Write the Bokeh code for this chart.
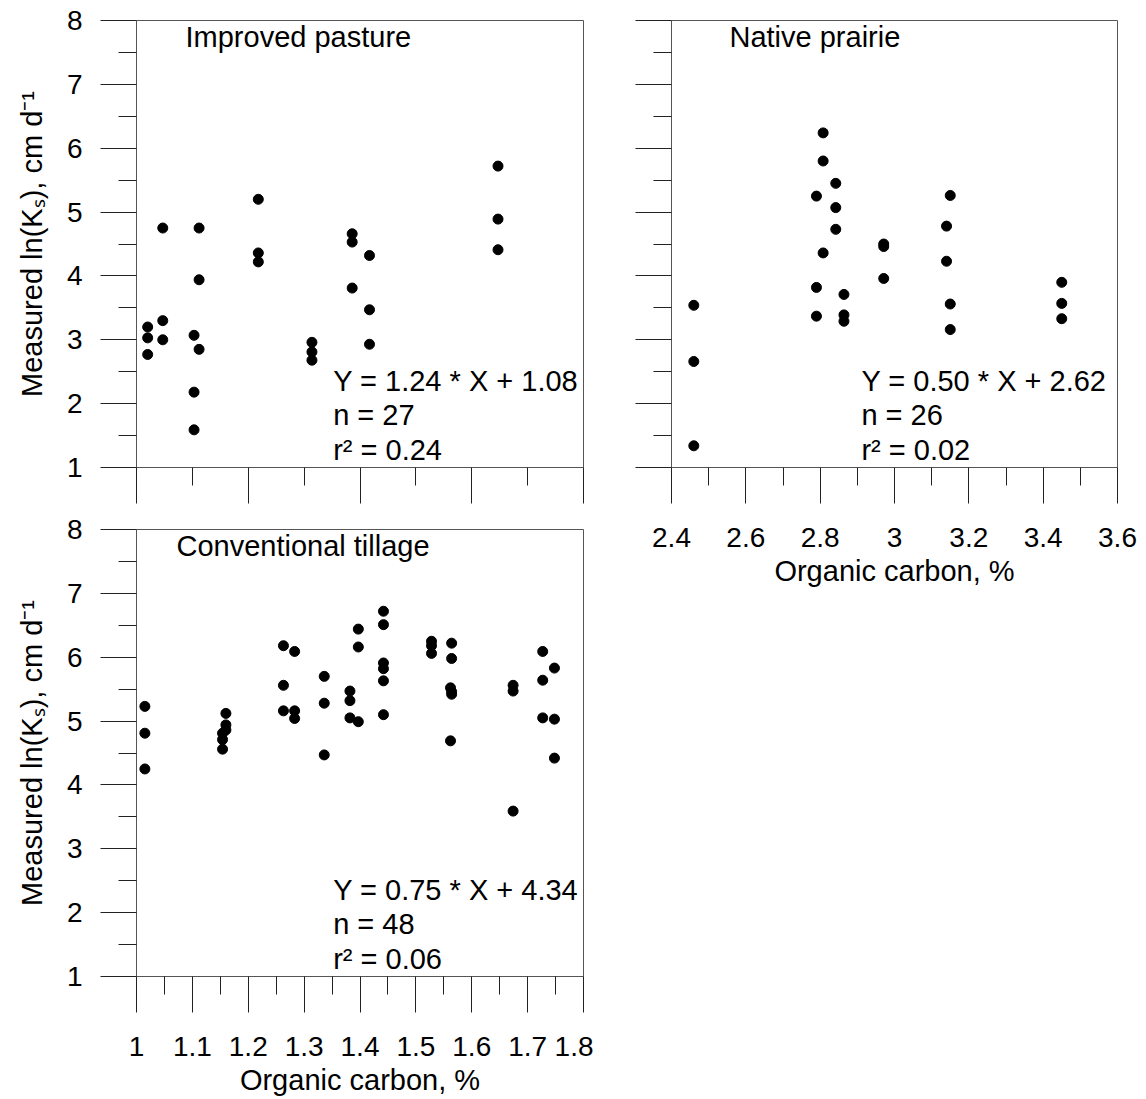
from bokeh.plotting import figure
from bokeh.models import Range1d, FixedTicker, Label
from bokeh.layouts import row, column
from bokeh.embed import file_html
from bokeh.resources import INLINE

FONT = "Liberation Sans"

# ---------------- data ----------------
# Improved pasture
ip_oc = [1.020, 1.020, 1.020, 1.047, 1.047, 1.047, 1.103, 1.103, 1.103,
         1.112, 1.112, 1.112, 1.218, 1.218, 1.218, 1.314, 1.314, 1.314,
         1.386, 1.386, 1.386, 1.417, 1.417, 1.417, 1.647, 1.647, 1.647]
ip_ks = [3.20, 3.03, 2.77, 4.75, 3.30, 3.00, 3.07, 2.18, 1.59,
         4.75, 3.94, 2.85, 5.20, 4.36, 4.22, 2.96, 2.81, 2.68,
         4.66, 4.53, 3.81, 4.32, 3.47, 2.93, 5.72, 4.89, 4.41]

# Native prairie
np_oc = [2.46, 2.46, 2.46, 2.79, 2.79, 2.79, 2.808, 2.808, 2.808,
         2.842, 2.842, 2.842, 2.864, 2.864, 2.864, 2.971, 2.971, 2.971,
         3.14, 3.14, 3.15, 3.15, 3.15, 3.45, 3.45, 3.45]
np_ks = [3.54, 2.66, 1.34, 5.25, 3.82, 3.37, 6.24, 5.80, 4.36,
         5.45, 5.07, 4.73, 3.71, 3.39, 3.29, 4.50, 4.46, 3.96,
         4.78, 4.23, 5.26, 3.56, 3.16, 3.90, 3.57, 3.33]

# Conventional tillage
ct_oc = [1.015, 1.015, 1.015,
         1.160, 1.160, 1.160, 1.154, 1.154, 1.154,
         1.263, 1.263, 1.263, 1.283, 1.283, 1.283,
         1.336, 1.336, 1.336, 1.382, 1.382, 1.382,
         1.397, 1.397, 1.397,
         1.442, 1.442, 1.442, 1.442, 1.442, 1.442,
         1.528, 1.528, 1.528,
         1.564, 1.564, 1.564, 1.564, 1.562, 1.562,
         1.674, 1.674, 1.674, 1.727, 1.727, 1.727,
         1.748, 1.748, 1.748]
ct_ks = [5.23, 4.81, 4.25,
         5.12, 4.94, 4.86, 4.81, 4.71, 4.56,
         6.18, 5.56, 5.16, 6.09, 5.16, 5.04,
         5.70, 5.28, 4.47, 5.47, 5.32, 5.05,
         6.44, 6.16, 4.99,
         6.72, 6.51, 5.91, 5.82, 5.63, 5.10,
         6.25, 6.18, 6.06,
         6.22, 5.98, 5.46, 5.42, 5.52, 4.69,
         5.56, 5.47, 3.59, 6.09, 5.64, 5.05,
         5.83, 5.03, 4.42]

y_major = [1, 2, 3, 4, 5, 6, 7, 8]
y_minor = [1.5, 2.5, 3.5, 4.5, 5.5, 6.5, 7.5]
y_labels = ["1", "2", "3", "4", "5", "6", "7", "8"]

oc_low_major = [1.0, 1.2, 1.4, 1.6, 1.8]
oc_low_minor = [1.1, 1.3, 1.5, 1.7]
oc_low_labels = ["1", "1.1", "1.2", "1.3", "1.4", "1.5", "1.6", "1.7", "1.8"]
oc_low_minor2 = [1.05, 1.15, 1.25, 1.35, 1.45, 1.55, 1.65, 1.75]

oc_np_labels = ["2.4", "2.6", "2.8", "3", "3.2", "3.4", "3.6"]
oc_np_minor = [2.5, 2.7, 2.9, 3.1, 3.3, 3.5]

titles = ["Improved pasture", "Native prairie", "Conventional tillage"]
stats = [["Y = 1.24 * X + 1.08", "n = 27", "r\u00b2 = 0.24"],
         ["Y = 0.50 * X + 2.62", "n = 26", "r\u00b2 = 0.02"],
         ["Y = 0.75 * X + 4.34", "n = 48", "r\u00b2 = 0.06"]]

y_title = "Measured ln(K\u209b), cm d\u207b\u00b9"
x_title = "Organic carbon, %"

TICK_FS = "28px"
TEXT_FS = "29px"
FRAME = "#555555"
TICKC = "#222222"


def make(width, height, xr, borders):
    l, t, r, b = borders
    p = figure(width=width, height=height, x_range=Range1d(*xr),
               y_range=Range1d(1, 8), output_backend="svg",
               toolbar_location=None, min_border_left=l, min_border_top=t,
               min_border_right=r, min_border_bottom=b)
    p.grid.visible = False
    p.outline_line_color = FRAME
    p.outline_line_width = 1
    p.background_fill_color = "white"
    p.border_fill_color = "white"
    for ax in (p.xaxis[0], p.yaxis[0]):
        ax.axis_line_color = FRAME
        ax.major_tick_in = 0
        ax.major_tick_out = 36
        ax.minor_tick_in = 0
        ax.minor_tick_out = 18
        ax.major_tick_line_color = TICKC
        ax.minor_tick_line_color = TICKC
        ax.major_label_text_font = FONT
        ax.major_label_text_font_size = TICK_FS
        ax.major_label_text_color = "black"
        ax.axis_label_text_font = FONT
        ax.axis_label_text_font_size = TEXT_FS
        ax.axis_label_text_font_style = "normal"
        ax.axis_label_text_color = "black"
    p.yaxis[0].ticker = FixedTicker(ticks=[float(v) for v in y_major],
                                    minor_ticks=y_minor)
    p.yaxis[0].major_label_overrides = {float(v): s for v, s in zip(y_major, y_labels)}
    p.yaxis[0].major_label_standoff = 18
    p.xaxis[0].major_label_standoff = 24
    return p


def annotate(p, x_title_pos, title, x_stat, lines):
    p.add_layout(Label(x=x_title_pos, y=7.734, text=title, text_font=FONT,
                       text_font_size=TEXT_FS, text_baseline="alphabetic",
                       text_align="left", text_color="black"))
    for yy, s in zip([2.354, 1.821, 1.273], lines):
        p.add_layout(Label(x=x_stat, y=yy, text=s, text_font=FONT,
                           text_font_size=TEXT_FS, text_baseline="alphabetic",
                           text_align="left", text_color="black"))


# Panel 1: improved pasture
p1 = make(593, 508, (1.0, 1.8), (136, 20, 10, 41))
p1.xaxis[0].ticker = FixedTicker(ticks=oc_low_major, minor_ticks=oc_low_minor)
p1.xaxis[0].major_label_overrides = {v: "" for v in oc_low_major}
p1.yaxis[0].axis_label = y_title
p1.yaxis[0].axis_label_standoff = 16
p1.scatter(ip_oc, ip_ks, size=10, color="black")
annotate(p1, 1.0877, titles[0], 1.352, stats[0])

# Panel 2: native prairie
np_ticks = [float(s) for s in oc_np_labels]
p2 = make(553, 600, (2.4, 3.6), (78, 20, 29, 133))
p2.xaxis[0].ticker = FixedTicker(ticks=np_ticks, minor_ticks=oc_np_minor)
p2.xaxis[0].major_label_overrides = {v: s for v, s in zip(np_ticks, oc_np_labels)}
p2.xaxis[0].axis_label = x_title
p2.xaxis[0].axis_label_standoff = 5
p2.yaxis[0].major_label_overrides = {float(v): "" for v in y_major}
p2.scatter(np_oc, np_ks, size=10, color="black")
annotate(p2, 2.556, titles[1], 2.911, stats[1])

# Panel 3: conventional tillage
low_ticks = [float(s) for s in oc_low_labels]
p3 = make(593, 591, (1.0, 1.8), (136, 21, 10, 123))
p3.xaxis[0].ticker = FixedTicker(ticks=low_ticks, minor_ticks=oc_low_minor2)
p3.xaxis[0].major_label_overrides = {v: s for v, s in zip(low_ticks, oc_low_labels)}
p3.xaxis[0].axis_label = x_title
p3.xaxis[0].axis_label_standoff = 5
p3.yaxis[0].axis_label = y_title
p3.yaxis[0].axis_label_standoff = 16
p3.scatter(ct_oc, ct_ks, size=10, color="black")
annotate(p3, 1.0715, titles[2], 1.352, stats[2])

layout = row(column(p1, p3), p2)

open("out.html", "w").write(file_html(layout, INLINE))
